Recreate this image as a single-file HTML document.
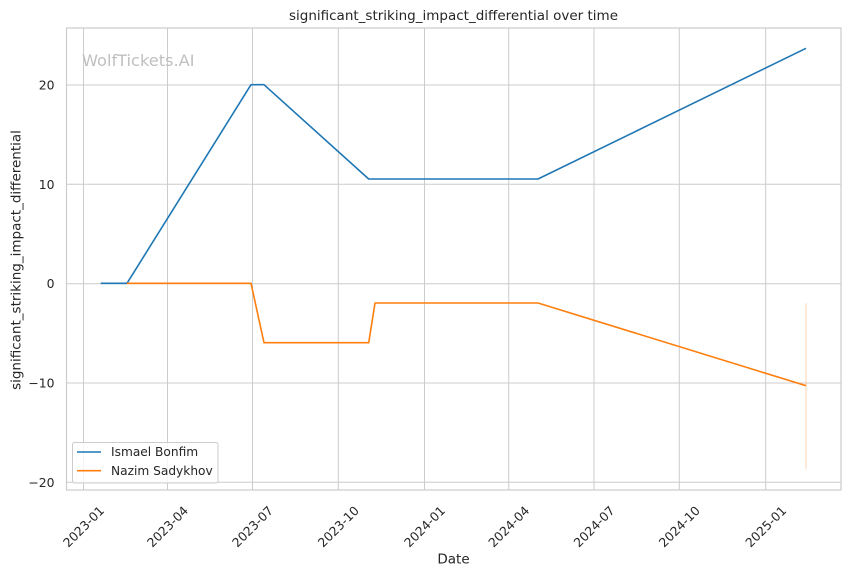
<!DOCTYPE html>
<html><head><meta charset="utf-8"><style>
html,body{margin:0;padding:0;background:#fff;}
svg{display:block;font-family:"DejaVu Sans","Liberation Sans",sans-serif;}
</style></head><body>
<svg width="850" height="575" viewBox="0 0 850 575" xmlns="http://www.w3.org/2000/svg">
<rect width="850" height="575" fill="#fff"/>
<g stroke="#cccccc" stroke-width="1" fill="none">
<line x1="83.5" y1="28" x2="83.5" y2="490"/>
<line x1="167.5" y1="28" x2="167.5" y2="490"/>
<line x1="252.5" y1="28" x2="252.5" y2="490"/>
<line x1="338.3" y1="28" x2="338.3" y2="490"/>
<line x1="424.5" y1="28" x2="424.5" y2="490"/>
<line x1="508.7" y1="28" x2="508.7" y2="490"/>
<line x1="594" y1="28" x2="594" y2="490"/>
<line x1="679.3" y1="28" x2="679.3" y2="490"/>
<line x1="765.7" y1="28" x2="765.7" y2="490"/>
<line x1="66.5" y1="85" x2="841" y2="85"/>
<line x1="66.5" y1="184.3" x2="841" y2="184.3"/>
<line x1="66.5" y1="283.7" x2="841" y2="283.7"/>
<line x1="66.5" y1="383" x2="841" y2="383"/>
<line x1="66.5" y1="482.3" x2="841" y2="482.3"/>
<rect x="66.5" y="28" width="774.5" height="462" stroke-width="1.2"/>
</g>
<text x="82" y="66" font-size="16.2" fill="#c0c0c0">WolfTickets.AI</text>
<line x1="806" y1="303.3" x2="806" y2="469.3" stroke="#ff7f0e" stroke-opacity="0.22" stroke-width="1.5"/>
<polyline fill="none" stroke="#1f77b4" stroke-width="1.6" stroke-linejoin="round" points="100.7,283.3 127,283.3 251,84.7 264,84.7 368.7,179 538,179 806,48.3"/>
<polyline fill="none" stroke="#ff7f0e" stroke-width="1.6" stroke-linejoin="round" points="127,283.3 251,283.3 264,342.7 368.7,342.7 375,303 538,303 806,385.7"/>
<g font-size="12.4" fill="#262626" text-anchor="end" dominant-baseline="central">
<text x="54.5" y="85">20</text>
<text x="54.5" y="184.3">10</text>
<text x="54.5" y="283.7">0</text>
<text x="54.5" y="383">−10</text>
<text x="54.5" y="482.3">−20</text>
</g>
<g font-size="12.4" fill="#262626" text-anchor="middle" dominant-baseline="central">
<text x="83.5" y="526.5" transform="rotate(-45 83.5 526.5)">2023-01</text>
<text x="167.5" y="526.5" transform="rotate(-45 167.5 526.5)">2023-04</text>
<text x="252.5" y="526.5" transform="rotate(-45 252.5 526.5)">2023-07</text>
<text x="338.3" y="526.5" transform="rotate(-45 338.3 526.5)">2023-10</text>
<text x="424.5" y="526.5" transform="rotate(-45 424.5 526.5)">2024-01</text>
<text x="508.7" y="526.5" transform="rotate(-45 508.7 526.5)">2024-04</text>
<text x="594" y="526.5" transform="rotate(-45 594 526.5)">2024-07</text>
<text x="679.3" y="526.5" transform="rotate(-45 679.3 526.5)">2024-10</text>
<text x="765.7" y="526.5" transform="rotate(-45 765.7 526.5)">2025-01</text>
</g>
<text x="453.5" y="563.5" font-size="13.5" fill="#262626" text-anchor="middle">Date</text>
<text x="20.5" y="260" font-size="13.5" fill="#262626" text-anchor="middle" transform="rotate(-90 20.5 260)">significant_striking_impact_differential</text>
<text x="453.5" y="20" font-size="13.5" fill="#262626" text-anchor="middle">significant_striking_impact_differential over time</text>
<rect x="72.5" y="442.5" width="145.5" height="40.5" rx="2" fill="#fff" fill-opacity="0.8" stroke="#cccccc" stroke-width="1"/>
<line x1="77" y1="452" x2="101" y2="452" stroke="#1f77b4" stroke-width="1.6"/>
<line x1="77" y1="470.7" x2="101" y2="470.7" stroke="#ff7f0e" stroke-width="1.6"/>
<g font-size="12.2" fill="#262626" dominant-baseline="central">
<text x="111" y="452">Ismael Bonfim</text>
<text x="111" y="471">Nazim Sadykhov</text>
</g>
</svg>
</body></html>
